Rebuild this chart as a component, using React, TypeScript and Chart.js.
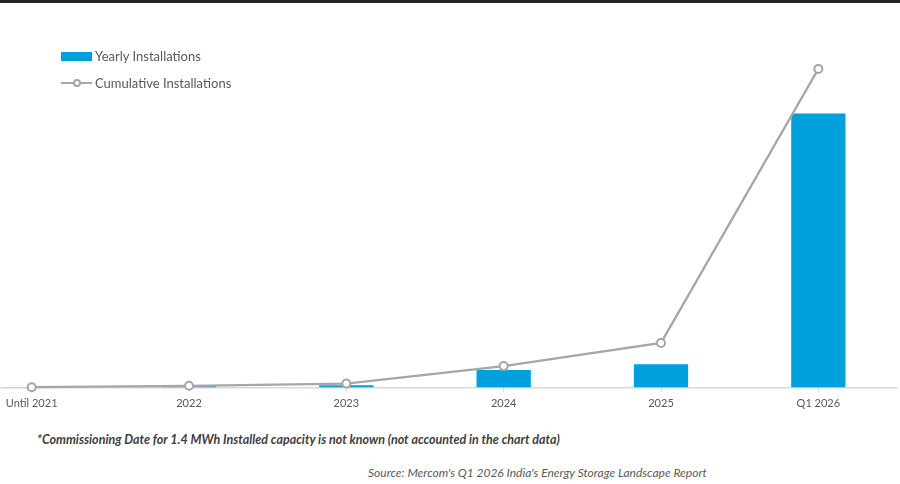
import React, { useEffect, useRef } from "react";
import { Chart, registerables } from "chart.js";

Chart.register(...registerables);

const categories = ["Until 2021", "2022", "2023", "2024", "2025", "Q1 2026"];
const yearlyInstallations = [3, 14, 22, 175, 232, 2740];
const cumulativeInstallations = [3, 17, 39, 214, 446, 3186];
const legendLabels = ["Yearly Installations", "Cumulative Installations"];
const footnote =
  "*Commissioning Date for 1.4 MWh Installed capacity is not known (not accounted in the chart data)";
const sourceNote = "Source: Mercom's Q1 2026 India's Energy Storage Landscape Report";

const BAR_COLOR = "#00A0DC";
const LINE_COLOR = "#A6A6A6";
const TEXT_COLOR = "#595959";

export default function App() {
  const canvasRef = useRef<HTMLCanvasElement | null>(null);

  useEffect(() => {
    if (!canvasRef.current) return;
    const chart = new Chart(canvasRef.current, {
      type: "bar",
      data: {
        labels: categories,
        datasets: [
          {
            type: "line",
            label: legendLabels[1],
            data: cumulativeInstallations,
            borderColor: LINE_COLOR,
            borderWidth: 2.25,
            pointRadius: 4,
            pointBorderWidth: 2,
            pointBackgroundColor: "#ffffff",
            pointBorderColor: LINE_COLOR,
            tension: 0,
            order: 1,
            clip: false as any,
          } as any,
          {
            type: "bar",
            label: legendLabels[0],
            data: yearlyInstallations,
            backgroundColor: BAR_COLOR,
            categoryPercentage: 1,
            barPercentage: 0.345,
            order: 2,
          },
        ],
      },
      options: {
        animation: false,
        responsive: false,
        maintainAspectRatio: false,
        layout: { autoPadding: false, padding: { top: 37.5, left: 0, right: 0, bottom: 0 } },
        plugins: {
          legend: { display: false },
          tooltip: { enabled: false },
        },
        scales: {
          x: {
            offset: true,
            grid: {
              offset: false,
              drawOnChartArea: false,
              drawTicks: true,
              tickLength: 4,
              color: "#D9D9D9",
            },
            border: { display: true, color: "#D9D9D9", width: 1.5 },
            ticks: {
              color: TEXT_COLOR,
              font: { family: "Lato", size: 11 },
              padding: 5,
              maxRotation: 0,
              autoSkip: false,
            },
            afterFit: (scale: any) => {
              scale.height = 23.5;
            },
          },
          y: {
            display: false,
            min: 0,
            max: 3500,
          },
        },
      },
    });
    return () => chart.destroy();
  }, []);

  return (
    <div
      style={{
        position: "fixed",
        left: 0,
        top: 0,
        width: 900,
        height: 484,
        overflow: "hidden",
        background: "#ffffff",
        fontFamily: "Lato, 'Open Sans', sans-serif",
      }}
    >
      <div
        style={{
          position: "absolute",
          left: 0,
          top: 0,
          width: 900,
          height: 3,
          background: "#262626",
        }}
      />
      <canvas
        ref={canvasRef}
        width={944}
        height={411}
        style={{ position: "absolute", left: -47, top: 0, width: 944, height: 411 }}
      />
      {/* Legend */}
      <div style={{ position: "absolute", left: 61, top: 47, height: 18, display: "flex", alignItems: "center" }}>
        <span style={{ display: "inline-block", width: 31, height: 9, background: BAR_COLOR, marginRight: 3 }} />
        <span style={{ color: TEXT_COLOR, fontSize: 13 }}>{legendLabels[0]}</span>
      </div>
      <div style={{ position: "absolute", left: 61, top: 74, height: 18, display: "flex", alignItems: "center" }}>
        <span style={{ position: "relative", display: "inline-block", width: 31, height: 18, marginRight: 3 }}>
          <span
            style={{
              position: "absolute",
              left: 0,
              top: 8,
              width: 31,
              height: 2,
              background: LINE_COLOR,
            }}
          />
          <span
            style={{
              position: "absolute",
              left: 12,
              top: 5,
              width: 4,
              height: 4,
              borderRadius: "50%",
              border: `2px solid ${LINE_COLOR}`,
              background: "#ffffff",
            }}
          />
        </span>
        <span style={{ color: TEXT_COLOR, fontSize: 13 }}>{legendLabels[1]}</span>
      </div>
      {/* Footnotes */}
      <div
        style={{
          position: "absolute",
          left: 37,
          top: 432,
          fontSize: 12.5,
          lineHeight: "16px",
          fontStyle: "italic",
          fontWeight: "bold",
          color: "#404040",
          whiteSpace: "nowrap",
        }}
      >
        {footnote}
      </div>
      <div
        style={{
          position: "absolute",
          left: 368,
          top: 465,
          fontSize: 12,
          lineHeight: "16px",
          fontStyle: "italic",
          color: TEXT_COLOR,
          whiteSpace: "nowrap",
        }}
      >
        {sourceNote}
      </div>
    </div>
  );
}
